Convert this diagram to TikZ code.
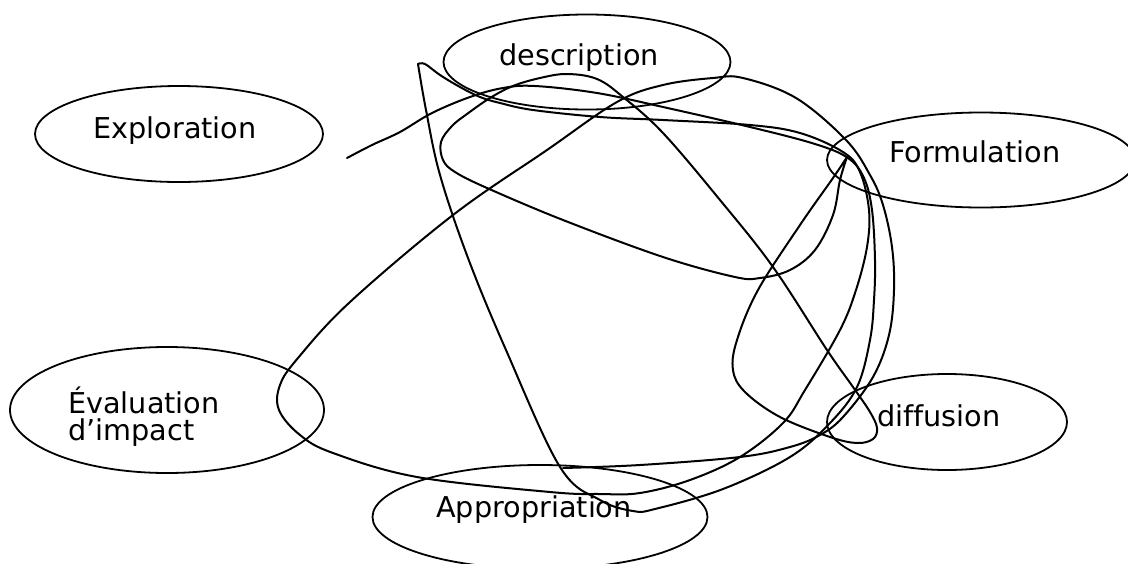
\documentclass[tikz,border=0pt]{standalone}
\usepackage{fontspec}
\setmainfont{DejaVu Sans}[Ligatures=NoCommon]
\usetikzlibrary{shapes.geometric}
\begin{document}
\begin{tikzpicture}[x=1pt,y=-1pt,
  bubble/.style={draw, ellipse, line width=1.8pt, inner sep=0pt},
  lbl/.style={font=\fontsize{28.7}{26.5}\selectfont, inner sep=0pt},
  scribble/.style={line width=2pt, line join=round, line cap=round}]
\useasboundingbox (0,0) rectangle (1128,563);
% ellipses
\node[bubble, minimum width=288pt, minimum height=96pt] (explo) at (179,134) {};
\node[bubble, minimum width=287pt, minimum height=95pt] (desc) at (587,62) {};
\node[bubble, minimum width=308pt, minimum height=95pt] (formu) at (981,160) {};
\node[bubble, minimum width=314pt, minimum height=126pt] (evalu) at (167,410) {};
\node[bubble, minimum width=240pt, minimum height=96pt] (diffu) at (947,422) {};
\node[bubble, minimum width=335pt, minimum height=104pt] (appro) at (540,517) {};
% labels
\node[lbl, anchor=base] (texplo) at (175,138) {Exploration};
\node[lbl, anchor=base] (tdesc) at (579,65) {description};
\node[lbl, anchor=base] (tformu) at (975,162) {Formulation};
\node[lbl, anchor=base west, align=left] (tevalu) at (68,440) {Évaluation\\d’impact};
\node[lbl, anchor=base] (tdiffu) at (939,426) {diffusion};
\node[lbl, anchor=base] (tappro) at (534,517) {Appropriation};
% scribble: long stroke
\coordinate (s0) at (347,158);
\coordinate (tip) at (418,62);
\coordinate (s1) at (563,468);
\draw[scribble] plot[smooth, tension=0.6] coordinates {(347,158) (372,145) (400,132) (432,113) (470,97) (503,88) (535,86) (597,93) (663,107) (750,127) (815,144) (848,158) (864,178) (872,210) (875,260) (874,300) (870,340) (857,387) (830,423) (790,457) (723,489) (655,509) (633,511) (600,500) (560,467) (506,350) (468,258) (440,175) (426,110) (418,64)};
\draw[scribble] plot[smooth, tension=0.6] coordinates {(418,64) (425,64) (440,75) (460,87) (480,97) (500,103) (533,110) (600,117) (663,120) (750,125) (800,133) (843,152) (860,172) (869,210) (867,247) (856,290) (840,330) (805,390) (783,423) (740,457) (690,480) (640,493) (600,494) (550,492) (417,477) (333,453) (300,435) (279,410) (280,385) (298,358) (350,302) (453,215) (547,150) (617,102) (663,85) (713,78) (743,78) (796,98) (846,140) (870,175) (883,205) (892,247) (894,290) (889,335) (873,377) (843,417) (820,435) (790,447) (740,457) (640,465) (563,468)};
% scribble: closed loop
\draw[scribble] plot[smooth, tension=0.6] coordinates {(847,157) (840,180) (833,215) (815,250) (790,270) (760,278) (735,277) (663,257) (563,220) (487,188) (455,172) (443,160) (441,142) (452,126) (467,114) (490,98) (513,86) (540,78) (567,74) (597,79) (623,97) (663,133) (720,200) (773,267) (827,350) (853,387) (870,412) (877,428) (873,439) (857,443) (830,437) (780,417) (745,392) (733,370) (737,340) (758,290) (800,225) (833,178) (847,157)};
\end{tikzpicture}
\end{document}
